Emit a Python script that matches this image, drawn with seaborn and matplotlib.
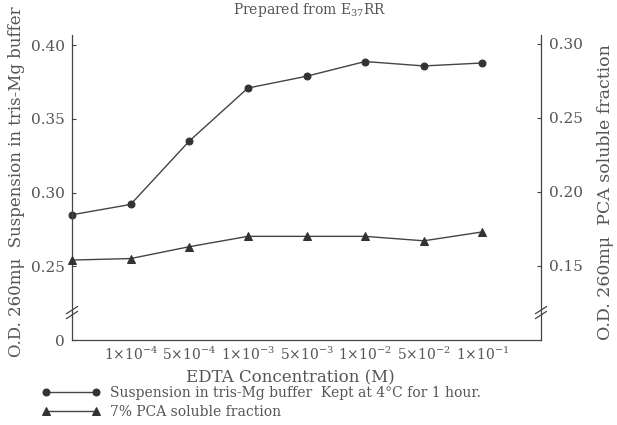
import matplotlib
matplotlib.use("Agg")
import matplotlib.pyplot as plt
import seaborn as sns
import pandas as pd

# ---- data ----
concentrations = ["0", r"1$\times$10$^{-4}$", r"5$\times$10$^{-4}$", r"1$\times$10$^{-3}$",
                  r"5$\times$10$^{-3}$", r"1$\times$10$^{-2}$", r"5$\times$10$^{-2}$", r"1$\times$10$^{-1}$"]
suspension = [0.285, 0.292, 0.335, 0.371, 0.379, 0.389, 0.386, 0.388]
pca_fraction = [0.154, 0.155, 0.163, 0.170, 0.170, 0.170, 0.167, 0.173]
left_ticks = [0.25, 0.30, 0.35, 0.40]
right_ticks = [0.15, 0.20, 0.25, 0.30]

title_text = "Prepared from E$_{37}$RR"
xlabel_text = "EDTA Concentration (M)"
left_label = "O.D. 260m\u03bc  Suspension in tris-Mg buffer"
right_label = "O.D. 260m\u03bc  PCA soluble fraction"
legend_labels = ["Suspension in tris-Mg buffer  Kept at 4\u00b0C for 1 hour.",
                 "7% PCA soluble fraction"]

sns.set_style("white")
plt.rcParams["font.family"] = ["DejaVu Serif"]
plt.rcParams["mathtext.fontset"] = "dejavuserif"

TXT = "#555555"
LN = "#444444"

df = pd.DataFrame({"pos": list(range(len(concentrations))),
                   "susp": suspension, "pca": pca_fraction})

fig = plt.figure(figsize=(6.17, 4.25), dpi=100)
ax = fig.add_axes([72/617, 1-340/425, (541-72)/617, (340-35)/425])
ax2 = ax.twinx()

sns.lineplot(data=df, x="pos", y="susp", ax=ax, color=LN, lw=1.0,
             marker="o", markersize=5, markeredgecolor="#333333",
             markerfacecolor="#333333", clip_on=False, legend=False)
sns.lineplot(data=df, x="pos", y="pca", ax=ax2, color=LN, lw=1.0,
             marker="^", markersize=6, markeredgecolor="#333333",
             markerfacecolor="#333333", clip_on=False, legend=False)

ax.set_xlim(0, 8)
ax.set_ylim(0.20, 0.407)
ax2.set_ylim(0.10, 0.306)

ax.set_xticks(list(range(1, len(concentrations))))
ax.set_xticklabels(concentrations[1:], fontsize=10, color=TXT)
ax.set_yticks([0.20] + left_ticks)
ax.set_yticklabels(["0"] + [f"{v:.2f}" for v in left_ticks], fontsize=11, color=TXT)
ax2.set_yticks(right_ticks)
ax2.set_yticklabels([f"{v:.2f}" for v in right_ticks], fontsize=11, color=TXT)

ax.tick_params(axis="both", direction="in", length=3, width=0.8, color=LN, pad=5)
ax.tick_params(axis="x", pad=4)
ax2.tick_params(axis="y", direction="in", length=3, width=0.8, color=LN, pad=6)
ax.set_xlabel("")
ax.set_ylabel("")
ax2.set_ylabel("")

for a in (ax, ax2):
    a.spines["top"].set_visible(False)
    for s in ("left", "bottom", "right"):
        a.spines[s].set_color(LN)
        a.spines[s].set_linewidth(0.9)
ax.spines["right"].set_visible(False)
ax2.spines["left"].set_visible(False)
ax2.spines["bottom"].set_visible(False)

# axis break marks
for xb in (0.0, 1.0):
    for dy in (-0.008, 0.008):
        ax.plot([xb - 0.012, xb + 0.012], [0.09 + dy - 0.012, 0.09 + dy + 0.012],
                transform=ax.transAxes, color=LN, lw=0.9, clip_on=False)

# texts
fig.text(310/617, 1-1/425, title_text, ha="center", va="top",
         fontsize=10, color=TXT)
fig.text(290/617, 1-378/425, xlabel_text, ha="center", va="center",
         fontsize=12, color=TXT)
fig.text(17/617, 1-357/425, left_label, rotation=90, ha="center", va="bottom",
         fontsize=12, color=TXT)
fig.text(605/617, 1-340/425, right_label, rotation=90, ha="center", va="bottom",
         fontsize=12.5, color=TXT)

handles = [ax.lines[0], ax2.lines[0]]
fig.legend(handles, legend_labels, loc="upper left",
           bbox_to_anchor=(42/617, 1-386/425), frameon=False, numpoints=2,
           handlelength=4.2, handletextpad=0.7, labelspacing=0.35,
           borderpad=0, borderaxespad=0, fontsize=10, labelcolor=TXT)

fig.savefig("out.png", dpi=100)
